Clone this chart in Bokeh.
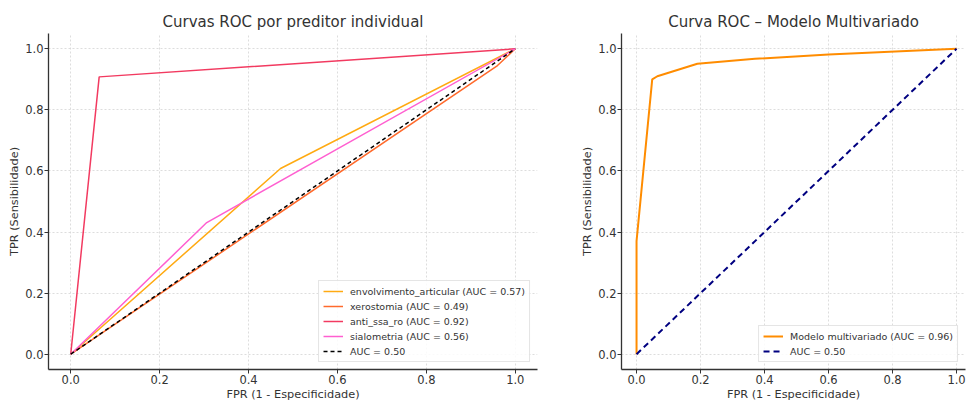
from bokeh.plotting import figure
from bokeh.layouts import row
from bokeh.models import Range1d, FixedTicker, PrintfTickFormatter
from bokeh.embed import file_html
from bokeh.resources import INLINE

FONT = "DejaVu Sans"
TXT = "#333333"

# ---- data: individual predictors (FPR, TPR) ----
fpr_env = [0.0, 0.472, 1.0]
tpr_env = [0.0, 0.608, 1.0]
fpr_xer = [0.0, 0.96, 1.0]
tpr_xer = [0.0, 0.945, 1.0]
fpr_ssa = [0.0, 0.064, 1.0]
tpr_ssa = [0.0, 0.908, 1.0]
fpr_sia = [0.0, 0.306, 1.0]
tpr_sia = [0.0, 0.431, 1.0]
ref_x = [0.0, 1.0]
ref_y = [0.0, 1.0]

labels_left = [
    "envolvimento_articular (AUC = 0.57)",
    "xerostomia (AUC = 0.49)",
    "anti_ssa_ro (AUC = 0.92)",
    "sialometria (AUC = 0.56)",
    "AUC = 0.50",
]

# ---- data: multivariate model ----
fpr_mod = [0.0, 0.0, 0.049, 0.065, 0.19, 0.37, 0.60, 1.0]
tpr_mod = [0.0, 0.37, 0.90, 0.91, 0.951, 0.967, 0.981, 1.0]
label_mod = "Modelo multivariado (AUC = 0.96)"

ticks = [0.0, 0.2, 0.4, 0.6, 0.8, 1.0]


def style(p, title):
    p.title.text = title
    p.title.align = "center"
    p.title.text_font = FONT
    p.title.text_font_size = "15px"
    p.title.text_font_style = "normal"
    p.title.text_color = TXT
    p.title.standoff = 5
    p.outline_line_color = None
    p.background_fill_color = "white"
    for ax in (p.xaxis[0], p.yaxis[0]):
        ax.ticker = FixedTicker(ticks=ticks)
        ax.formatter = PrintfTickFormatter(format="%.1f")
        ax.major_label_text_font = FONT
        ax.major_label_text_font_size = "11.5px"
        ax.major_label_text_color = TXT
        ax.axis_label_text_font = FONT
        ax.axis_label_text_font_size = "11.3px"
        ax.axis_label_text_font_style = "normal"
        ax.axis_label_text_color = TXT
        ax.axis_line_color = "#333333"
        ax.axis_line_width = 1.3
        ax.major_tick_line_color = "#333333"
        ax.major_tick_out = 4
        ax.major_tick_in = 0
        ax.minor_tick_line_color = None
        ax.major_label_standoff = 1
        ax.axis_label_standoff = 1
    p.xaxis.axis_label = "FPR (1 - Especificidade)"
    p.yaxis.axis_label = "TPR (Sensibilidade)"
    for g in (p.xgrid[0], p.ygrid[0]):
        g.ticker = FixedTicker(ticks=ticks)
        g.grid_line_color = "#d4d4d4"
        g.grid_line_dash = "2 2"
        g.grid_line_alpha = 0.8
        g.grid_line_width = 1


def style_legend(p):
    lg = p.legend[0]
    lg.location = "bottom_right"
    lg.label_text_font = FONT
    lg.label_text_font_size = "9.5px"
    lg.label_text_color = TXT
    lg.glyph_width = 20
    lg.glyph_height = 12
    lg.label_height = 12
    lg.spacing = 3
    lg.padding = 4
    lg.margin = 7
    lg.label_standoff = 7
    lg.border_line_color = "#cccccc"
    lg.background_fill_alpha = 0.85


p1 = figure(width=560, height=403, output_backend="svg", toolbar_location=None,
            x_range=Range1d(-0.05, 1.05), y_range=Range1d(-0.05, 1.05),
            min_border_left=48, min_border_right=23, min_border_top=33,
            min_border_bottom=10)
style(p1, "Curvas ROC por preditor individual")
p1.line(fpr_env, tpr_env, color="#FFAA12", line_width=1.5, legend_label=labels_left[0])
p1.line(fpr_xer, tpr_xer, color="#FF6A2C", line_width=1.5, legend_label=labels_left[1])
p1.line(fpr_ssa, tpr_ssa, color="#F23A60", line_width=1.5, legend_label=labels_left[2])
p1.line(fpr_sia, tpr_sia, color="#FF5FD0", line_width=1.5, legend_label=labels_left[3])
p1.line(ref_x, ref_y, color="black", line_width=1.5, line_dash="4 3", legend_label=labels_left[4])
style_legend(p1)

p2 = figure(width=407, height=403, output_backend="svg", toolbar_location=None,
            x_range=Range1d(-0.047, 1.028), y_range=Range1d(-0.05, 1.05),
            min_border_left=61, min_border_right=2, min_border_top=33,
            min_border_bottom=10)
style(p2, "Curva ROC \u2013 Modelo Multivariado")
p2.line(fpr_mod, tpr_mod, color="#FF8C00", line_width=2, legend_label=label_mod)
p2.line(ref_x, ref_y, color="navy", line_width=2, line_dash="6 4", legend_label="AUC = 0.50")
style_legend(p2)

layout = row(p1, p2)
open("out.html", "w").write(file_html(layout, INLINE))
